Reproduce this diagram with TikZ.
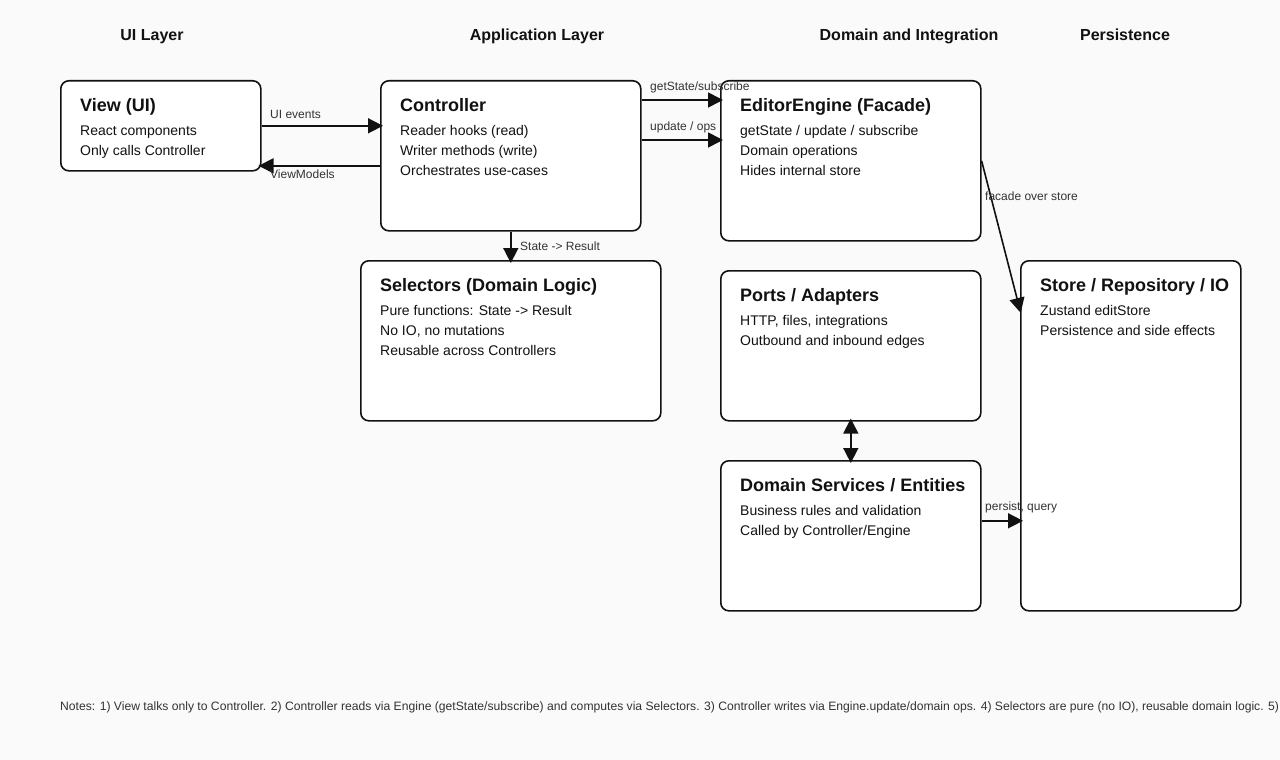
\documentclass[tikz,border=0pt]{standalone}
\usepackage{fontspec}
\setmainfont{Liberation Sans}
\usetikzlibrary{arrows.meta,positioning}
\definecolor{ink}{HTML}{111111}
\definecolor{labelgray}{HTML}{333333}
\definecolor{paper}{HTML}{FAFAFA}

\begin{document}
\begin{tikzpicture}[x=1pt, y=-1pt,
    box/.style={draw=ink, line width=1.6pt, rounded corners=8pt, fill=white, anchor=north west, inner sep=0pt},
    heading/.style={anchor=base, inner sep=0pt, text=ink, font=\fontsize{16}{19}\selectfont\bfseries},
    boxtitle/.style={anchor=base west, inner sep=0pt, text=ink, font=\fontsize{18}{21}\selectfont\bfseries},
    boxline/.style={anchor=base west, inner sep=0pt, text=ink, font=\fontsize{14}{17}\selectfont},
    edgelabel/.style={anchor=base west, inner sep=0pt, text=labelgray, font=\fontsize{12}{14}\selectfont},
    flow/.style={draw=ink, line width=1.6pt, shorten >=-3pt, -{Triangle[length=15pt, width=15pt]}},
    twoway/.style={draw=ink, line width=1.6pt, shorten >=-3pt, shorten <=-3pt, {Triangle[length=15pt, width=15pt]}-{Triangle[length=15pt, width=15pt]}}]

    % canvas
    \fill[paper] (0,0) rectangle (1280,760);
    \useasboundingbox (0,0) rectangle (1280,760);

    % layer headings
    \node (hUI) [heading] at (152,41) {UI Layer};
    \node (hApp) [heading] at (537,41) {Application Layer};
    \node (hDom) [heading] at (909,41) {Domain and Integration};
    \node (hPers) [heading] at (1125,41) {Persistence};

    % boxes
    \node (view) [box, minimum width=200pt, minimum height=90pt] at (60,80) {};
    \node (ctrl) [box, minimum width=260pt, minimum height=150pt] at (380,80) {};
    \node (engine) [box, minimum width=260pt, minimum height=160pt] at (720,80) {};
    \node (sel) [box, minimum width=300pt, minimum height=160pt] at (360,260) {};
    \node (ports) [box, minimum width=260pt, minimum height=150pt] at (720,270) {};
    \node (dsvc) [box, minimum width=260pt, minimum height=150pt] at (720,460) {};
    \node (store) [box, minimum width=220pt, minimum height=350pt] at (1020,260) {};

    % box texts
    \node (viewT) [boxtitle] at (80,111) {View (UI)};
    \foreach \txt [count=\i] in {React components, Only calls Controller}
        \node (view-\i) [boxline] at (80,115+20*\i) {\txt};

    \node (ctrlT) [boxtitle] at (400,111) {Controller};
    \foreach \txt [count=\i] in {Reader hooks (read), Writer methods (write), Orchestrates use-cases}
        \node (ctrl-\i) [boxline] at (400,115+20*\i) {\txt};

    \node (engineT) [boxtitle] at (740,111) {EditorEngine (Facade)};
    \foreach \txt [count=\i] in {getState / update / subscribe, Domain operations, Hides internal store}
        \node (engine-\i) [boxline] at (740,115+20*\i) {\txt};

    \node (selT) [boxtitle] at (380,291) {Selectors (Domain Logic)};
    \foreach \txt [count=\i] in {Pure functions: State -> Result, {No IO, no mutations}, Reusable across Controllers}
        \node (sel-\i) [boxline] at (380,295+20*\i) {\txt};

    \node (portsT) [boxtitle] at (740,301) {Ports / Adapters};
    \foreach \txt [count=\i] in {{HTTP, files, integrations}, Outbound and inbound edges}
        \node (ports-\i) [boxline] at (740,305+20*\i) {\txt};

    \node (dsvcT) [boxtitle] at (740,491) {Domain Services / Entities};
    \foreach \txt [count=\i] in {Business rules and validation, Called by Controller/Engine}
        \node (dsvc-\i) [boxline] at (740,495+20*\i) {\txt};

    \node (storeT) [boxtitle] at (1040,291) {Store / Repository / IO};
    \foreach \txt [count=\i] in {Zustand editStore, Persistence and side effects}
        \node (store-\i) [boxline] at (1040,295+20*\i) {\txt};

    % connector ends
    \coordinate (vmOut) at ([yshift=-10pt]ctrl.west);
    \coordinate (getOut) at ([yshift=-20pt]ctrl.north east);
    \coordinate (updOut) at ([yshift=-60pt]ctrl.north east);
    \coordinate (facIn) at ([yshift=-50pt]store.north west);
    \coordinate (perOut) at ([yshift=15pt]dsvc.east);

    % connectors
    \draw[flow] (view.east) -- (ctrl.west |- view.east);
    \node (lblUI) [edgelabel] at (270,118) {UI events};

    \draw[flow] (vmOut) -- (view.east |- vmOut);
    \node (lblVM) [edgelabel] at (270,178) {ViewModels};

    \draw[flow] (getOut) -- (engine.west |- getOut);
    \node (lblGet) [edgelabel] at (650,90) {getState/subscribe};

    \draw[flow] (updOut) -- (engine.west |- updOut);
    \node (lblUpd) [edgelabel] at (650,130) {update / ops};

    \draw[flow] (ctrl.south) -- (sel.north);
    \node (lblSR) [edgelabel] at (520,250) {State -> Result};

    \draw[flow] (engine.east) -- (facIn);
    \node (lblFac) [edgelabel] at (985,200) {facade over store};

    \draw[twoway] (ports.south) -- (dsvc.north);

    \draw[flow] (perOut) -- (store.west |- perOut);
    \node (lblPer) [edgelabel] at (985,510) {persist, query};

    % notes
    \node (notes) [edgelabel, font=\fontsize{12.15}{14}\selectfont] at (60,710) {Notes: 1) View talks only to Controller. 2) Controller reads via Engine (getState/subscribe) and computes via Selectors. 3) Controller writes via Engine.update/domain ops. 4) Selectors are pure (no IO), reusable domain logic. 5)};
\end{tikzpicture}
\end{document}
